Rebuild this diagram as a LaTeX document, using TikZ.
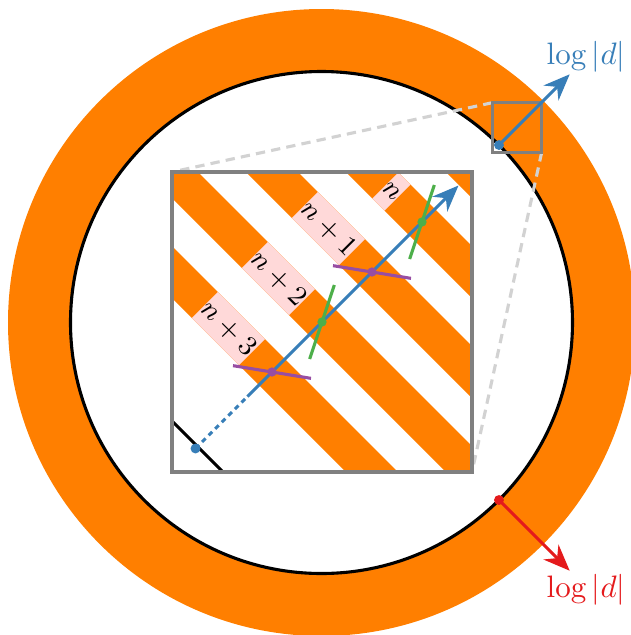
\documentclass[tikz,border=0pt]{standalone}
\usetikzlibrary{arrows.meta}
\definecolor{setblue}{HTML}{377EB8}
\definecolor{setred}{HTML}{E41A1C}
\definecolor{setgreen}{HTML}{4DAF4A}
\definecolor{setpurple}{HTML}{984EA3}
\definecolor{setorange}{HTML}{FF7F00}
\begin{document}
\begin{tikzpicture}[x=0.3226pt, y=-0.3226pt,
    frame/.style={draw=gray, line width=1pt},
    guide/.style={draw=gray!35, line width=1pt, densely dashed},
    ray/.style={line width=1pt, -{Stealth[length=8.5pt, width=6.8pt]}},
    tick/.style={line width=1pt},
    bandlabel/.style={fill=red!15, rotate=-45, inner xsep=0pt, inner ysep=0pt,
                      minimum height=11.86pt, font=\small, anchor=center},
    band/.style={setorange, line width=11.86pt}]
\useasboundingbox (0,0) rectangle (631,635);

% annulus
\coordinate (O) at (321.5,322.5);
\fill[setorange] (O) circle[radius=313.5*0.3226pt];
\filldraw[fill=white, draw=black, line width=1pt] (O) circle[radius=251*0.3226pt];

% zoom window and its guides
\coordinate (zA) at (492.3,102.7);
\coordinate (zB) at (541.7,152.3);
\coordinate (iA) at (172,172);
\coordinate (iB) at (472,472);
\draw[guide] (zA) -- (iA);
\draw[guide] (zB) -- (iB);
\draw[frame] (zA) rectangle (zB);

% outward and inward directions
\coordinate (B0) at (499,145);
\coordinate (B1) at (569.7,74.3);
\coordinate (R0) at (499,500);
\coordinate (R1) at (569.7,570.7);
\draw[ray, setblue] (B0) -- (B1);
\fill[setblue] (B0) circle[radius=1.6pt];
\node[text=setblue, inner sep=0pt] (blabel) at (586,57) {$\log|d|$};
\draw[ray, setred] (R0) -- (R1);
\fill[setred] (R0) circle[radius=1.6pt];
\node[text=setred, inner sep=0pt] (rlabel) at (586,590) {$\log|d|$};

% magnified view
\fill[white] (iA) rectangle (iB);
\begin{scope}
  \clip (iA) rectangle (iB);
  \foreach \c in {-100,0,100,200,300}
    \draw[band] ({(300+\c)/2},{(300-\c)/2}) -- ({(1000+\c)/2},{(1000-\c)/2});
  \node[bandlabel] (ln0) at (391.5,191.5) {$n$};
  \node[bandlabel] (ln1) at (328.5,228.5) {$n+1$};
  \node[bandlabel] (ln2) at (278.5,278.5) {$n+2$};
  \node[bandlabel] (ln3) at (228.5,328.5) {$n+3$};
  \coordinate (c0) at (25.5,274.5);
  \coordinate (c1) at (375.5,624.5);
  \draw[black, line width=1pt] (c0) -- (c1);
\end{scope}

\coordinate (p0) at (195.5,448.5);
\coordinate (p1) at (247.5,396.5);
\coordinate (p2) at (458.5,185.5);
\draw[setblue, line width=1pt, dash pattern=on 1.6pt off 1.4pt] (p0) -- (p1);
\draw[ray, setblue] (p1) -- (p2);

\coordinate (t1) at (272,372);
\coordinate (t2) at (322,322);
\coordinate (t3) at (372,272);
\coordinate (t4) at (422,222);
\draw[tick, setpurple] (t1) +(-39,-6.35) -- +(39,6.35);
\draw[tick, setpurple] (t3) +(-39,-6.35) -- +(39,6.35);
\draw[tick, setgreen] (t2) +(-12.35,37) -- +(12.35,-37);
\draw[tick, setgreen] (t4) +(-12.35,37) -- +(12.35,-37);
\fill[setpurple] (t1) circle[radius=1.5pt];
\fill[setpurple] (t3) circle[radius=1.5pt];
\fill[setgreen] (t2) circle[radius=1.5pt];
\fill[setgreen] (t4) circle[radius=1.5pt];
\fill[setblue] (p0) circle[radius=1.6pt];

\draw[frame] (iA) rectangle (iB);
\end{tikzpicture}
\end{document}
